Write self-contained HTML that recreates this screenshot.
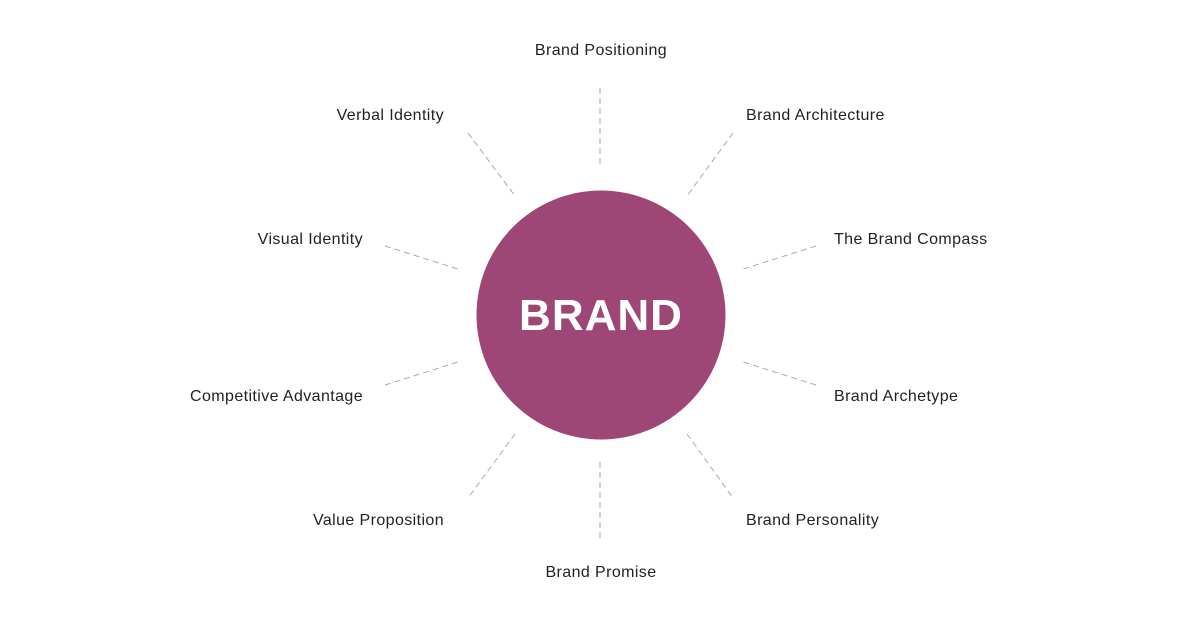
<!DOCTYPE html>
<html><head><style>
body{margin:0;width:1200px;height:630px;background:#fff;overflow:hidden}
svg text{font-family:"Liberation Sans",sans-serif;font-size:16px;letter-spacing:0.4px;fill:#222}
</style></head><body>
<svg width="1200" height="630" viewBox="0 0 1200 630">
<g stroke="#aaa" stroke-width="1" stroke-dasharray="6,4" fill="none">
<line x1="600" y1="88" x2="600" y2="168"/>
<line x1="600" y1="462" x2="600" y2="542"/>
<line x1="468" y1="133" x2="515" y2="196"/>
<line x1="733" y1="133" x2="687" y2="196"/>
<line x1="385" y1="246" x2="461" y2="270"/>
<line x1="816" y1="246" x2="740" y2="270"/>
<line x1="385" y1="385" x2="461" y2="361"/>
<line x1="816" y1="385" x2="740" y2="361"/>
<line x1="515" y1="434" x2="468" y2="498"/>
<line x1="687" y1="434" x2="733" y2="498"/>
</g>
<circle cx="601" cy="315" r="124.5" fill="#9e4676"/>
<text x="601" y="330" text-anchor="middle" style="font-size:44px;font-weight:bold;fill:#fff;letter-spacing:1px">BRAND</text>
<text x="601" y="55" text-anchor="middle">Brand Positioning</text>
<text x="444" y="120" text-anchor="end">Verbal Identity</text>
<text x="746" y="120">Brand Architecture</text>
<text x="363" y="244" text-anchor="end">Visual Identity</text>
<text x="834" y="244">The Brand Compass</text>
<text x="363" y="401" text-anchor="end">Competitive Advantage</text>
<text x="834" y="401">Brand Archetype</text>
<text x="444" y="525" text-anchor="end">Value Proposition</text>
<text x="746" y="525">Brand Personality</text>
<text x="601" y="577" text-anchor="middle">Brand Promise</text>
</svg>
</body></html>
